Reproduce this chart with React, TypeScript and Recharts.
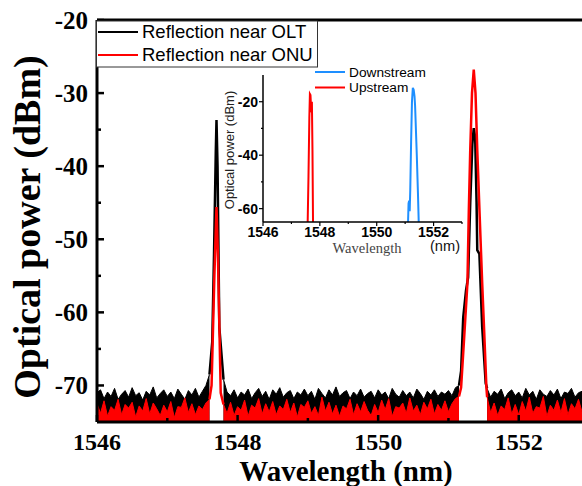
import { ComposedChart, LineChart, Line, Area, XAxis, YAxis, ReferenceLine } from 'recharts'

// sampling grid of the noise floor (nm)
const noiseX = [
  1546.0, 1546.05, 1546.1, 1546.15, 1546.2, 1546.25, 1546.3, 1546.35, 1546.4, 1546.45,
  1546.5, 1546.55, 1546.6, 1546.65, 1546.7, 1546.75, 1546.8, 1546.85, 1546.9, 1546.95,
  1547.0, 1547.05, 1547.1, 1547.15, 1547.2, 1547.25, 1547.3, 1547.35, 1547.4, 1547.45,
  1547.5, 1547.55, 1547.6, 1547.65, 1547.7, 1547.75, 1547.8, 1547.85, 1547.9, 1547.95,
  1548.0, 1548.05, 1548.1, 1548.15, 1548.2, 1548.25, 1548.3, 1548.35, 1548.4, 1548.45,
  1548.5, 1548.55, 1548.6, 1548.65, 1548.7, 1548.75, 1548.8, 1548.85, 1548.9, 1548.95,
  1549.0, 1549.05, 1549.1, 1549.15, 1549.2, 1549.25, 1549.3, 1549.35, 1549.4, 1549.45,
  1549.5, 1549.55, 1549.6, 1549.65, 1549.7, 1549.75, 1549.8, 1549.85, 1549.9, 1549.95,
  1550.0, 1550.05, 1550.1, 1550.15, 1550.2, 1550.25, 1550.3, 1550.35, 1550.4, 1550.45,
  1550.5, 1550.55, 1550.6, 1550.65, 1550.7, 1550.75, 1550.8, 1550.85, 1550.9, 1550.95,
  1551.0, 1551.05, 1551.1, 1551.15, 1551.2, 1551.25, 1551.3, 1551.35, 1551.4, 1551.45,
  1551.5, 1551.55, 1551.6, 1551.65, 1551.7, 1551.75, 1551.8, 1551.85, 1551.9, 1551.95,
  1552.0, 1552.05, 1552.1, 1552.15, 1552.2, 1552.25, 1552.3, 1552.35, 1552.4, 1552.45,
  1552.5, 1552.55, 1552.6, 1552.65, 1552.7, 1552.75, 1552.8, 1552.85, 1552.9,
]

// noise floor, reflection near OLT (black)
const oltNoise = [
  -71.0, -70.6, -71.8, -70.9, -71.5, -70.4, -71.9, -71.2, -70.7, -71.6,
  -70.3, -71.4, -71.0, -72.0, -70.8, -71.3, -70.2, -71.7, -71.1, -70.6,
  -71.5, -70.9, -71.8, -70.5, -71.2, -71.9, -70.7, -71.3, -70.4, -71.6,
  -70.8, -70.0, -68.5, null, null, null, -69.2, -70.9, -71.4, -70.6,
  -71.7, -70.9, -71.3, -70.5, -71.8, -71.0, -70.4, -71.5, -70.8, -71.9,
  -70.6, -71.2, -70.3, -71.6, -71.0, -70.7, -71.8, -70.9, -71.3, -70.5,
  -71.4, -70.8, -71.9, -70.4, -71.1, -71.7, -70.6, -71.3, -70.2, -71.5,
  -71.0, -70.7, -71.8, -70.9, -71.4, -70.5, -71.6, -71.1, -70.8, -71.7,
  -70.6, -71.3, -70.9, -71.8, -70.4, -71.2, -71.6, -70.7, -71.4, -70.9,
  -71.7, -70.5, -71.1, -71.9, -70.8, -71.3, -70.6, -71.5, -70.9, -71.2,
  -70.7, -71.4, -70.3, -70.0, null, null, null, null, null, null,
  null, -70.4, -71.6, -70.8, -71.2, -70.5, -71.8, -71.0, -70.6, -71.4,
  -70.9, -71.7, -70.4, -71.3, -70.8, -71.9, -70.6, -71.2, -71.5, -70.7,
  -71.3, -70.5, -71.8, -70.9, -71.1, -70.4, -71.6, -71.0, -70.8,
]

// noise floor, reflection near ONU (red)
const onuNoise = [
  -72.5, -73.8, -72.1, -74.2, -72.9, -73.4, -71.9, -74.0, -72.6, -73.1,
  -72.3, -74.3, -72.8, -73.5, -71.8, -73.9, -72.4, -73.2, -74.1, -72.7,
  -73.6, -72.2, -74.4, -72.9, -73.0, -71.7, -73.7, -72.5, -74.0, -72.8,
  -73.3, -72.4, -71.9, null, null, null, -72.6, -73.8, -72.3, -74.1,
  -72.9, -73.4, -72.0, -74.2, -72.7, -73.1, -71.8, -73.9, -72.5, -73.6,
  -72.2, -74.0, -72.8, -73.3, -71.9, -73.7, -72.4, -74.3, -72.6, -73.0,
  -72.1, -73.8, -72.9, -74.1, -71.6, -73.5, -72.3, -73.9, -72.7, -74.2,
  -72.8, -73.2, -71.9, -74.0, -72.5, -73.6, -72.2, -73.4, -74.1, -72.6,
  -73.7, -72.0, -73.3, -71.8, -74.2, -72.9, -73.1, -72.4, -73.8, -71.7,
  -73.5, -72.7, -74.0, -72.3, -73.2, -71.9, -73.9, -72.6, -73.4, -72.1,
  -73.6, -72.5, -71.8, -71.5, null, null, null, null, null, null,
  null, -71.6, -73.7, -72.4, -74.1, -72.8, -73.3, -71.7, -73.9, -72.6,
  -74.0, -72.2, -73.5, -71.6, -73.8, -72.9, -73.1, -71.5, -74.2, -72.7,
  -73.4, -72.0, -73.7, -71.8, -74.0, -72.5, -73.2, -71.9, -73.6,
]

// peaks of the main spectrum
const oltPeak1X = [1547.6, 1547.64, 1547.665, 1547.69, 1547.7, 1547.715, 1547.74, 1547.8]
const oltPeak1Y = [-68.5, -64, -52, -38, -33.7, -40, -62, -69.2]
const onuPeak1X = [1547.6, 1547.63, 1547.67, 1547.7, 1547.72, 1547.76, 1547.8]
const onuPeak1Y = [-71.9, -70, -55, -45.6, -52, -71, -72.6]
const oltPeak2X = [1551.15, 1551.18, 1551.21, 1551.25, 1551.28, 1551.31, 1551.34, 1551.36, 1551.38, 1551.4, 1551.41, 1551.44, 1551.48, 1551.53, 1551.55]
const oltPeak2Y = [-70.0, -68, -60.7, -57, -55.2, -45, -37, -34.8, -36, -45, -51.5, -52, -62, -69.7, -70.4]
const onuPeak2X = [1551.15, 1551.18, 1551.22, 1551.27, 1551.29, 1551.31, 1551.335, 1551.36, 1551.385, 1551.41, 1551.445, 1551.48, 1551.51, 1551.54, 1551.55]
const onuPeak2Y = [-71.5, -70.3, -64, -56, -46, -37.8, -30, -26.8, -30, -37.8, -47, -56, -63, -70.3, -71.6]

// inset
const downX = [1551.1, 1551.12, 1551.14, 1551.16, 1551.18, 1551.21, 1551.24, 1551.27, 1551.3, 1551.33, 1551.35, 1551.41, 1551.45, 1551.48]
const downY = [-66, -58, -57, -61, -53, -35, -20, -14.8, -15.5, -18, -21.5, -40, -54, -66]
const upX = [1547.57, 1547.6, 1547.63, 1547.65, 1547.67, 1547.69, 1547.71, 1547.72, 1547.74, 1547.76]
const upY = [-66, -48, -26, -17.1, -17.5, -22, -24, -20, -38, -66]

const mainXTicks = [1546, 1547, 1548, 1549, 1550, 1551, 1552]
const mainYTicks = [-70, -65, -60, -55, -50, -45, -40, -35, -30, -25, -20]
const insetXTicks = [1546, 1547, 1548, 1549, 1550, 1551, 1552, 1553]
const insetYTicks = [-60, -50, -40, -30, -20]

const zip = (xs: number[], ys: (number | null)[]) => xs.map((x, i) => ({ x, y: ys[i] }))

const noiseRows = noiseX.map((x, i) => ({ x, olt: oltNoise[i], onu: onuNoise[i] }))

const SERIF = '"Liberation Serif", "Times New Roman", serif'
const SANS = '"Liberation Sans", Arial, sans-serif'

const MainYTick = (props: any) => {
  const { x, y, payload } = props
  const major = payload.value % 10 === 0
  return (
    <g>
      <line x1={x} x2={x + (major ? 7 : 4)} y1={y} y2={y} stroke="#000" strokeWidth={2.5} />
      {major && (
        <text x={x - 9} y={y} dy="0.35em" textAnchor="end" fontFamily={SERIF} fontWeight="bold" fontSize={25} fill="#000">
          {payload.value}
        </text>
      )}
    </g>
  )
}

const MainXTick = (props: any) => {
  const { x, y, payload } = props
  const major = payload.value % 2 === 0
  return (
    <g>
      <line x1={x} x2={x} y1={y} y2={y - (major ? 7 : 4)} stroke="#000" strokeWidth={2.5} />
      {major && (
        <text x={x} y={y + 28} textAnchor="middle" fontFamily={SERIF} fontWeight="bold" fontSize={24} fill="#000">
          {payload.value}
        </text>
      )}
    </g>
  )
}

const InsetYTick = (props: any) => {
  const { x, y, payload } = props
  const major = payload.value % 20 === 0
  return (
    <g>
      <line x1={x} x2={x - (major ? 4 : 2)} y1={y} y2={y} stroke="#000" strokeWidth={1.2} />
      {major && (
        <text x={x - 5} y={y} dy="0.36em" textAnchor="end" fontFamily={SANS} fontWeight="bold" fontSize={14} fill="#000">
          {payload.value}
        </text>
      )}
    </g>
  )
}

const InsetXTick = (props: any) => {
  const { x, y, payload } = props
  const major = payload.value % 2 === 0
  return (
    <g>
      <line x1={x} x2={x} y1={y} y2={y + (major ? 4 : 2)} stroke="#000" strokeWidth={1.2} />
      {major && (
        <text x={x} y={y + 15} textAnchor="middle" fontFamily={SANS} fontWeight="bold" fontSize={14} fill="#000">
          {payload.value}
        </text>
      )}
    </g>
  )
}

export default function App() {
  return (
    <div style={{ position: 'absolute', left: 0, top: 0, width: 582, height: 486, background: '#fff' }}>
      <ComposedChart width={582} height={486} margin={{ top: 20, right: 0, bottom: 0, left: 0 }}>
        <XAxis
          type="number"
          dataKey="x"
          domain={[1546, 1552.9]}
          allowDataOverflow
          ticks={mainXTicks}
          interval={0}
          height={64}
          tickSize={0}
          tickMargin={0}
          tick={MainXTick}
          axisLine={{ stroke: '#000', strokeWidth: 3 }}
        />
        <YAxis
          type="number"
          domain={[-75, -20]}
          allowDataOverflow
          ticks={mainYTicks}
          interval={0}
          width={97}
          tickSize={0}
          tickMargin={0}
          tick={MainYTick}
          axisLine={{ stroke: '#000', strokeWidth: 3 }}
        />
        <ReferenceLine y={-20} stroke="#000" strokeWidth={3} />
        <Area data={noiseRows} dataKey="olt" type="linear" baseValue="dataMin" stroke="#000" strokeWidth={1} fill="#000" fillOpacity={1} isAnimationActive={false} />
        <Area data={noiseRows} dataKey="onu" type="linear" baseValue="dataMin" stroke="#ff0000" strokeWidth={1} fill="#ff0000" fillOpacity={1} isAnimationActive={false} />
        <Line data={zip(oltPeak1X, oltPeak1Y)} dataKey="y" type="linear" stroke="#000" strokeWidth={2.5} dot={false} isAnimationActive={false} />
        <Line data={zip(oltPeak2X, oltPeak2Y)} dataKey="y" type="linear" stroke="#000" strokeWidth={2.5} dot={false} isAnimationActive={false} />
        <Line data={zip(onuPeak1X, onuPeak1Y)} dataKey="y" type="linear" stroke="#ff0000" strokeWidth={2.5} dot={false} isAnimationActive={false} />
        <Line data={zip(onuPeak2X, onuPeak2Y)} dataKey="y" type="linear" stroke="#ff0000" strokeWidth={2.5} dot={false} isAnimationActive={false} />
      </ComposedChart>

      <div style={{ position: 'absolute', left: 222, top: 55 }}>
        <LineChart width={245} height={205} margin={{ top: 20, right: 5, bottom: 0, left: 0 }}>
          <XAxis
            type="number"
            dataKey="x"
            domain={[1546, 1553]}
            allowDataOverflow
            ticks={insetXTicks}
            interval={0}
            height={38}
            tickSize={0}
            tickMargin={0}
            tick={InsetXTick}
            axisLine={{ stroke: '#000', strokeWidth: 1.5 }}
          />
          <YAxis
            type="number"
            domain={[-65, -10]}
            allowDataOverflow
            ticks={insetYTicks}
            interval={0}
            width={41}
            tickSize={0}
            tickMargin={0}
            tick={InsetYTick}
            axisLine={{ stroke: '#000', strokeWidth: 1.5 }}
          />
          <Line data={zip(downX, downY)} dataKey="y" name="Downstream" type="linear" stroke="#1e8fff" strokeWidth={2} dot={false} isAnimationActive={false} />
          <Line data={zip(upX, upY)} dataKey="y" name="Upstream" type="linear" stroke="#ff0000" strokeWidth={2} dot={false} isAnimationActive={false} />
        </LineChart>
      </div>

      <svg width={582} height={486} style={{ position: 'absolute', left: 0, top: 0, pointerEvents: 'none' }}>
        {/* main legend */}
        <rect x={96.5} y={21} width={221} height={46} fill="#fff" stroke="#333" strokeWidth={1} />
        <line x1={98} x2={138} y1={32} y2={32} stroke="#000" strokeWidth={2} />
        <text x={142} y={32} dy="0.35em" fontFamily={SANS} fontSize={18.5} fill="#000">Reflection near OLT</text>
        <line x1={98} x2={138} y1={55} y2={55} stroke="#ff0000" strokeWidth={2} />
        <text x={142} y={55} dy="0.35em" fontFamily={SANS} fontSize={18.5} fill="#000">Reflection near ONU</text>

        {/* main axis titles */}
        <text x={346} y={481} textAnchor="middle" fontFamily={SERIF} fontWeight="bold" fontSize={29} fill="#000">Wavelength (nm)</text>
        <text transform="translate(27,227) rotate(-90)" dy="0.35em" textAnchor="middle" fontFamily={SERIF} fontWeight="bold" fontSize={38} fill="#000">Optical power (dBm)</text>

        {/* inset legend */}
        <line x1={315} x2={345} y1={72} y2={72} stroke="#1e8fff" strokeWidth={2} />
        <text x={349} y={72} dy="0.35em" fontFamily={SANS} fontSize={13.7} fill="#000">Downstream</text>
        <line x1={315} x2={345} y1={87.5} y2={87.5} stroke="#ff0000" strokeWidth={2} />
        <text x={349} y={87.5} dy="0.35em" fontFamily={SANS} fontSize={13.7} fill="#000">Upstream</text>

        {/* inset axis titles */}
        <text transform="translate(229,150) rotate(-90)" dy="0.35em" textAnchor="middle" fontFamily={SANS} fontSize={13} fill="#222">Optical power (dBm)</text>
        <text x={367} y={248} dy="0.35em" textAnchor="middle" fontFamily={SERIF} fontSize={14.5} fill="#444">Wavelength</text>
        <text x={445} y={246} dy="0.35em" textAnchor="middle" fontFamily={SANS} fontSize={14.6} fill="#111">(nm)</text>
      </svg>
    </div>
  )
}
